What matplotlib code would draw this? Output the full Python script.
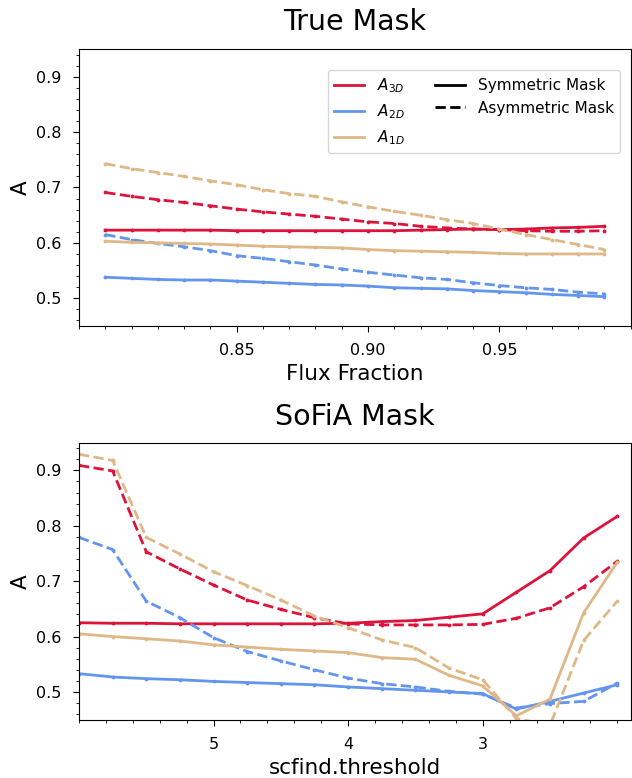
"""
Asymmetry vs. mask parameter for true and SoFiA masks.
"""

import matplotlib
matplotlib.use("Agg")
import matplotlib.pyplot as plt
from matplotlib.lines import Line2D
from matplotlib.ticker import MultipleLocator

# True mask: flux fraction
flux_fraction = [0.80, 0.81, 0.82, 0.83, 0.84, 0.85, 0.86, 0.87, 0.88, 0.89,
                 0.90, 0.91, 0.92, 0.93, 0.94, 0.95, 0.96, 0.97, 0.98, 0.99]

true_a3d_sym = [0.623, 0.623, 0.623, 0.623, 0.623, 0.622, 0.622, 0.622, 0.622, 0.622,
                0.622, 0.622, 0.623, 0.624, 0.625, 0.624, 0.625, 0.627, 0.628, 0.630]
true_a3d_asym = [0.691, 0.684, 0.678, 0.673, 0.667, 0.661, 0.656, 0.652, 0.648, 0.643,
                 0.638, 0.635, 0.630, 0.627, 0.625, 0.624, 0.622, 0.621, 0.621, 0.622]
true_a2d_sym = [0.538, 0.536, 0.534, 0.533, 0.533, 0.531, 0.529, 0.527, 0.525, 0.524,
                0.522, 0.519, 0.518, 0.517, 0.514, 0.512, 0.510, 0.507, 0.505, 0.503]
true_a2d_asym = [0.615, 0.606, 0.599, 0.593, 0.586, 0.577, 0.572, 0.566, 0.560, 0.553,
                 0.547, 0.542, 0.537, 0.534, 0.528, 0.523, 0.519, 0.516, 0.511, 0.508]
true_a1d_sym = [0.603, 0.601, 0.600, 0.599, 0.598, 0.596, 0.594, 0.593, 0.592, 0.591,
                0.588, 0.586, 0.585, 0.584, 0.583, 0.581, 0.580, 0.580, 0.580, 0.580]
true_a1d_asym = [0.743, 0.734, 0.727, 0.720, 0.712, 0.705, 0.696, 0.689, 0.684, 0.674,
                 0.665, 0.657, 0.650, 0.642, 0.635, 0.625, 0.615, 0.606, 0.597, 0.588]

# SoFiA mask: scfind.threshold
threshold = [6.0, 5.75, 5.5, 5.25, 5.0, 4.75, 4.5, 4.25, 4.0,
             3.75, 3.5, 3.25, 3.0, 2.75, 2.5, 2.25, 2.0]

sofia_a3d_sym = [0.625, 0.624, 0.624, 0.623, 0.623, 0.623, 0.623, 0.623, 0.624,
                 0.627, 0.629, 0.635, 0.641, 0.680, 0.719, 0.778, 0.817]
sofia_a3d_asym = [0.909, 0.899, 0.753, 0.722, 0.693, 0.666, 0.649, 0.634, 0.623,
                  0.621, 0.621, 0.621, 0.622, 0.633, 0.652, 0.690, 0.736]
sofia_a2d_sym = [0.533, 0.527, 0.524, 0.522, 0.519, 0.517, 0.515, 0.513, 0.509,
                 0.506, 0.503, 0.500, 0.497, 0.469, 0.483, 0.498, 0.513]
sofia_a2d_asym = [0.779, 0.757, 0.664, 0.634, 0.598, 0.573, 0.556, 0.540, 0.525,
                  0.515, 0.509, 0.501, 0.496, 0.471, 0.479, 0.483, 0.516]
sofia_a1d_sym = [0.605, 0.600, 0.596, 0.592, 0.585, 0.581, 0.577, 0.574, 0.571,
                 0.562, 0.559, 0.530, 0.511, 0.457, 0.487, 0.643, 0.734]
sofia_a1d_asym = [0.929, 0.918, 0.779, 0.749, 0.717, 0.692, 0.666, 0.637, 0.616,
                  0.594, 0.580, 0.543, 0.522, 0.452, 0.440, 0.593, 0.664]

colors = {'3D': 'crimson', '2D': 'cornflowerblue', '1D': 'burlywood'}


def draw_panel(ax, x, series):
    for key, sym, asym in series:
        ax.plot(x, sym, color=colors[key], lw=2, marker='.', ms=3.5)
        ax.plot(x, asym, color=colors[key], lw=2, ls='--', marker='.', ms=3.5)
    ax.set_ylim(0.45, 0.95)
    ax.yaxis.set_major_locator(MultipleLocator(0.1))
    ax.yaxis.set_minor_locator(MultipleLocator(0.02))
    ax.set_ylabel('A', fontsize=15.5)
    ax.tick_params(which='major', labelsize=11.5, length=4, pad=8.5)
    ax.tick_params(which='minor', length=2.4)


fig = plt.figure(figsize=(6.32, 7.78), dpi=100)
ax1 = fig.add_axes([0.125, 0.581, 0.873, 0.356])
ax2 = fig.add_axes([0.125, 0.075, 0.873, 0.356])

# Top panel
draw_panel(ax1, flux_fraction, [('3D', true_a3d_sym, true_a3d_asym),
                                ('2D', true_a2d_sym, true_a2d_asym),
                                ('1D', true_a1d_sym, true_a1d_asym)])
ax1.set_xlim(0.79, 1.0)
ax1.set_xticks([0.85, 0.90, 0.95])
ax1.set_xticklabels(['0.85', '0.90', '0.95'])
ax1.xaxis.set_minor_locator(MultipleLocator(0.01))
ax1.set_xlabel('Flux Fraction', fontsize=15.5)
ax1.set_title('True Mask', fontsize=20.5, pad=13.5)

handles = [
    Line2D([], [], color=colors['3D'], lw=2),
    Line2D([], [], color=colors['2D'], lw=2),
    Line2D([], [], color=colors['1D'], lw=2),
    Line2D([], [], color='black', lw=2),
    Line2D([], [], color='black', lw=2, ls='--'),
]
labels = [r'$A_{3D}$', r'$A_{2D}$', r'$A_{1D}$', 'Symmetric Mask', 'Asymmetric Mask']
ax1.legend(handles, labels, ncol=2, fontsize=11, loc='upper right',
           bbox_to_anchor=(0.98, 0.925), borderaxespad=0)

# Bottom panel
draw_panel(ax2, threshold, [('3D', sofia_a3d_sym, sofia_a3d_asym),
                            ('2D', sofia_a2d_sym, sofia_a2d_asym),
                            ('1D', sofia_a1d_sym, sofia_a1d_asym)])
ax2.set_xlim(6.0, 1.9)
ax2.set_xticks([5, 4, 3])
ax2.xaxis.set_minor_locator(MultipleLocator(0.2))
ax2.set_xlabel('scfind.threshold', fontsize=15.5)
ax2.set_title('SoFiA Mask', fontsize=20.5, pad=13)

fig.savefig('out.png', dpi=100)
